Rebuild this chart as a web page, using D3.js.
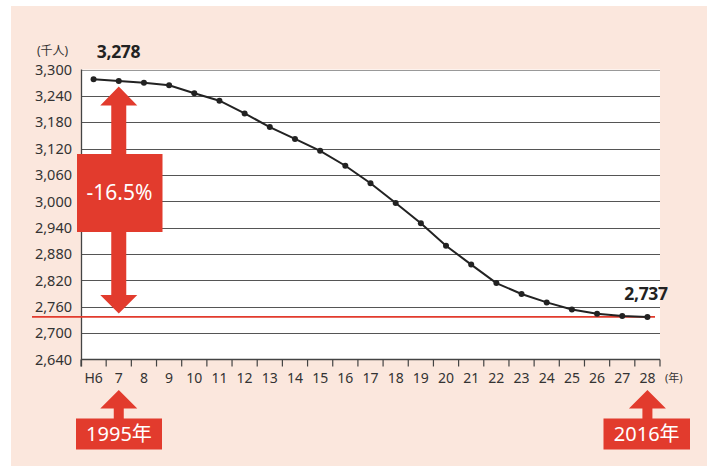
<!DOCTYPE html>
<html><head><meta charset="utf-8">
<script src="https://cdn.jsdelivr.net/npm/d3@7"></script>
<style>
html,body{margin:0;padding:0;background:#fff;}
svg{display:block;font-family:"Noto Sans","Noto Sans CJK JP",sans-serif;}
</style></head>
<body>
<svg id="chart" width="712" height="473"></svg>
<script>
const categories = ["H6","7","8","9","10","11","12","13","14","15","16","17","18","19","20","21","22","23","24","25","26","27","28"];
const values = [3278,3274,3270,3264,3246,3229,3200,3169,3142,3115,3081,3041,2996,2950,2899,2856,2814,2789,2770,2754,2744,2739,2737];
const yTicks = [2640,2700,2760,2820,2880,2940,3000,3060,3120,3180,3240,3300];
const changeLabel = "-16.5%";
const startYearLabel = "1995年";
const endYearLabel = "2016年";
const unitY = "(千人)";
const unitX = "(年)";

(function(){
const svg = d3.select("#chart");
const red = "#e23b2d";
const pL = 81, pR = 660, pT = 69.5, pB = 359.5;

svg.append("rect").attr("x",11).attr("y",6).attr("width",696).attr("height",460).attr("fill","#fbe7dd");
svg.append("rect").attr("x",pL).attr("y",pT).attr("width",pR-pL).attr("height",pB-pT).attr("fill","#fff");

const x = d3.scaleBand().domain(categories).range([pL,pR]).padding(0);
const y = d3.scaleLinear().domain([2640,3300]).range([pB,pT]);
const cx = c => x(c) + x.bandwidth()/2;

svg.append("g").selectAll("line").data(yTicks.filter(t=>t>2640)).join("line")
  .attr("x1",pL).attr("x2",pR)
  .attr("y1",d=>Math.round(y(d))+0.5).attr("y2",d=>Math.round(y(d))+0.5)
  .attr("stroke",d=> d===3300 ? "#999" : "#555").attr("stroke-width",1);

svg.append("g").selectAll("text").data(yTicks).join("text")
  .attr("x",72).attr("y",d=>y(d)).attr("dy","0.36em").attr("text-anchor","end")
  .attr("font-size",14.5).attr("fill","#333").text(d3.format(","));

svg.append("line").attr("x1",pL+0.5).attr("x2",pL+0.5).attr("y1",pT).attr("y2",pB+7).attr("stroke","#444").attr("stroke-width",1.3);
svg.append("line").attr("x1",pL).attr("x2",pR).attr("y1",pB).attr("y2",pB).attr("stroke","#444").attr("stroke-width",1.3);
const bounds = categories.map(c=>x(c)+x.bandwidth()).concat([x(categories[0])]);
svg.append("g").selectAll("line").data(bounds).join("line")
  .attr("x1",d=>d).attr("x2",d=>d).attr("y1",pB).attr("y2",pB+7)
  .attr("stroke","#444").attr("stroke-width",1.2);
svg.append("g").selectAll("text").data(categories).join("text")
  .attr("x",cx).attr("y",378).attr("dy","0.36em").attr("text-anchor","middle")
  .attr("font-size",14).attr("fill","#333").text(d=>d);

svg.append("text").attr("x",37).attr("y",51).attr("dy","0.35em").attr("font-size",12).attr("fill","#333").text(unitY);
svg.append("text").attr("x",665).attr("y",378).attr("dy","0.35em").attr("font-size",11).attr("fill","#333").text(unitX);

const last = values[values.length-1];
svg.append("line").attr("x1",32).attr("x2",655).attr("y1",y(last)).attr("y2",y(last)).attr("stroke",red).attr("stroke-width",1.6);

const data = categories.map((c,i)=>({c,v:values[i]}));
svg.append("path").datum(data)
  .attr("d",d3.line().x(d=>cx(d.c)).y(d=>y(d.v)))
  .attr("fill","none").attr("stroke","#222").attr("stroke-width",2);
svg.append("g").selectAll("circle").data(data).join("circle")
  .attr("cx",d=>cx(d.c)).attr("cy",d=>y(d.v)).attr("r",3).attr("fill","#222");

svg.append("text").attr("x",118.5).attr("y",51.5).attr("dy","0.36em").attr("text-anchor","middle")
  .attr("font-size",17.5).attr("font-weight","bold").attr("fill","#222").attr("letter-spacing","-0.3").text(d3.format(",")(values[0]));
svg.append("text").attr("x",646).attr("y",294).attr("dy","0.36em").attr("text-anchor","middle")
  .attr("font-size",17.5).attr("font-weight","bold").attr("fill","#222").attr("letter-spacing","-0.3").text(d3.format(",")(last));

const ax = cx(categories[1]);
function upArrow(g, xc, tipY, baseY, headW, shaftW, endY){
  const hw = headW/2, sw = shaftW/2;
  g.append("path").attr("d",`M${xc},${tipY} L${xc+hw},${baseY} L${xc+sw},${baseY} L${xc+sw},${endY} L${xc-sw},${endY} L${xc-sw},${baseY} L${xc-hw},${baseY} Z`).attr("fill",red);
}
const g = svg.append("g");
upArrow(g, ax, 86.5, 105.5, 37, 15, 160);
g.append("path").attr("d",`M${ax},313.5 L${ax+18.5},295 L${ax+7.5},295 L${ax+7.5},225 L${ax-7.5},225 L${ax-7.5},295 L${ax-18.5},295 Z`).attr("fill",red);
g.append("rect").attr("x",77).attr("y",154).attr("width",85.5).attr("height",78).attr("fill",red);
g.append("text").attr("x",119.5).attr("y",192).attr("dy","0.36em").attr("text-anchor","middle")
  .attr("font-size",21).attr("fill","#fff").text(changeLabel);

function yearMarker(xc, boxX, boxW, label){
  upArrow(svg, xc, 390, 408.5, 37, 10, 420);
  svg.append("rect").attr("x",boxX).attr("y",418.5).attr("width",boxW).attr("height",31).attr("fill",red);
  svg.append("text").attr("x",boxX+boxW/2).attr("y",434).attr("dy","0.36em").attr("text-anchor","middle")
    .attr("font-size",20).attr("fill","#fff").text(label);
}
yearMarker(cx(categories[1]), 76, 86, startYearLabel);
yearMarker(cx(categories[categories.length-1]), 603.5, 86.5, endYearLabel);
})();
</script>
</body></html>
